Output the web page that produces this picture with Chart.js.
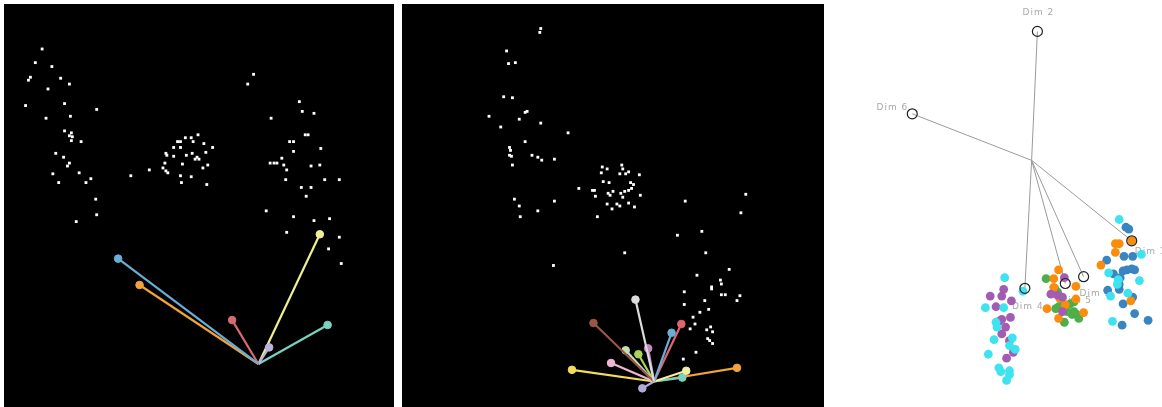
<!DOCTYPE html>
<html>
<head>
<meta charset="utf-8">
<script src="https://cdn.jsdelivr.net/npm/chart.js@4/dist/chart.umd.min.js"></script>
<style>
  html, body { margin: 0; padding: 0; background: #fff; }
  body { width: 1162px; height: 407px; position: relative; overflow: hidden; }
  canvas { position: absolute; }
  #viewA { left: 4px; top: 4px; background: #000; }
  #viewB { left: 402px; top: 4px; background: #000; }
  #viewC { left: 830px; top: 0px; background: #fff; }
</style>
</head>
<body>
<canvas id="viewA" width="390" height="403"></canvas>
<canvas id="viewB" width="422" height="403"></canvas>
<canvas id="viewC" width="332" height="407"></canvas>
<script>
// ---- Projection A: samples and axis rays ----
const samplesA = [
  [38,45],[31,59],[48,63],[26,74],[24,77],[57,75],[66,81],[44,86],[21,103],[61,101],
  [94,107],[42,116],[67,114],[61,129],[68,131],[69,135],[66,134],[78,140],[68,139],[52,152],
  [60,156],[66,162],[64,165],[49,173],[76,172],[88,178],[83,182],[55,182],[93,199],[94,215],[73,222],
  [129,175],[148,169],[185,136],[191,136],[198,133],[177,140],[180,140],[193,140],[204,142],
  [173,146],[180,146],[213,146],[165,152],[166,154],[186,154],[192,152],[197,156],[199,158],
  [195,158],[206,151],[173,155],[164,162],[182,163],[208,164],[203,167],[162,167],[165,170],
  [167,172],[180,175],[191,176],[181,182],[207,184],
  [255,71],[249,81],[302,99],[305,109],[317,111],[273,116],[308,133],[311,133],[292,140],
  [296,140],[324,147],[296,150],[284,157],[272,162],[276,162],[279,162],[286,164],[314,165],
  [323,164],[289,169],[288,179],[328,179],[343,179],[304,187],[314,187],[309,196],[268,211],
  [296,217],[317,221],[333,219],[289,233],[343,238],[332,250],[345,265]
];
const rayOriginA = [260,368];
const rayEndsA = [[116,260],[138,287],[233,323],[271,351],[323,235],[331,328]];
const rayColorsA = ['#6aaed8','#f0a23c','#d46a74','#b9b3dd','#efef95','#78d2c0'];

// ---- Projection B: samples and axis rays ----
const samplesB = [
  [539,24],[538,28],[504,47],[506,60],[513,59],[501,94],[510,95],[486,114],[523,110],[525,109],
  [517,117],[539,121],[498,125],[567,131],[523,140],[507,146],[508,149],[507,154],[509,155],
  [530,154],[536,156],[540,159],[553,158],[510,164],[512,199],[517,206],[518,217],[536,211],[553,201],
  [602,166],[607,168],[622,164],[623,168],[620,173],[626,173],[629,171],[640,174],[601,172],
  [603,181],[609,182],[631,182],[634,184],[632,188],[578,188],[592,190],[594,190],[613,191],
  [621,193],[625,191],[623,197],[629,190],[595,196],[608,193],[610,195],[641,195],[607,204],
  [612,209],[617,204],[620,206],[629,203],[635,207],[597,217],[625,254],[552,267],
  [749,194],[687,201],[744,213],[679,236],[704,232],[708,254],[732,271],[699,277],[723,282],
  [724,286],[714,289],[714,291],[686,294],[724,297],[728,297],[743,298],[740,303],[707,303],
  [686,307],[711,312],[702,315],[695,320],[697,327],[692,332],[713,330],[709,333],[715,335],
  [710,342],[712,344],[715,347],[698,356],[685,363]
];
const rayOriginB = [655,386];
const rayEndsB = [[636,302],[593,326],[626,354],[639,358],[649,352],[611,367],[571,374],
                  [673,336],[683,327],[688,375],[684,382],[740,372],[643,393]];
const rayColorsB = ['#dcdcdc','#9a5646','#bfe3b4','#a9d45c','#c487c4','#f3b5d6','#f2dc5a',
                    '#6aaed8','#e0656f','#f2f0a0','#78d2c0','#f0a23c','#b3a9d8'];

// ---- Projection C: labelled dimensions and coloured groups ----
const dimNames = ['Dim 1','Dim 2','Dim 3','Dim 4','Dim 5','Dim 6'];
const dimOrigin = [1033,159];
const dimEnds = [[1137,242],[1039,26],[1087,279],[1026,291],[1068,286],[909,111]];
const groupCyan = [
  [1005,280],[985,311],[1004,311],[996,326],[997,331],[994,344],[988,359],[1013,342],[1010,350],
  [1016,354],[999,373],[1001,377],[1010,376],[1010,380],[1007,386],[1024,294],
  [1124,220],[1147,256],[1113,275],[1123,282],[1122,287],[1145,283],[1133,296],[1115,299],[1117,325]
];
const groupPurple = [
  [1004,292],[990,299],[1002,299],[1012,304],[996,310],[1002,323],[999,325],[1011,321],[1006,331],
  [1002,338],[1010,345],[1014,357],[1007,363],[1067,280],[1053,297],[1060,298],[1065,300],[1065,315]
];
const groupOrange = [
  [1061,272],[1056,281],[1079,289],[1062,301],[1079,302],[1049,312],[1061,322],[1087,316],
  [1068,308],[1056,290],[1120,245],[1124,245],[1120,254],[1105,267],[1136,304],[1137,242]
];
const groupGreen = [
  [1048,281],[1057,291],[1061,310],[1058,312],[1067,326],[1073,307],[1077,305],[1075,318],
  [1080,318],[1082,322],[1077,315],[1065,308],[1070,315],[1067,313],[1060,295]
];
const groupBlue = [
  [1131,228],[1134,230],[1129,258],[1138,258],[1111,262],[1118,276],[1128,273],[1132,272],
  [1137,271],[1140,272],[1125,280],[1124,287],[1124,292],[1112,293],[1138,300],[1128,307],
  [1140,317],[1154,324],[1127,329]
];

// ---- helpers ----
const pts = arr => arr.map(([x, y]) => ({x, y}));

function view(id, xMin, xMax, yMin, yMax, datasets, plugins) {
  return new Chart(document.getElementById(id), {
    type: 'scatter',
    data: { datasets },
    options: {
      responsive: false,
      animation: false,
      events: [],
      layout: { padding: 0 },
      plugins: { legend: { display: false }, tooltip: { enabled: false } },
      scales: {
        x: { type: 'linear', min: xMin, max: xMax, display: false },
        y: { type: 'linear', min: yMin, max: yMax, reverse: true, display: false }
      }
    },
    plugins: plugins || []
  });
}

function rays(origin, ends, colors) {
  return ends.map((end, i) => ({
    data: pts([origin, end]),
    showLine: true,
    borderColor: colors[i],
    borderWidth: 2.2,
    pointRadius: [0, 3.8],
    pointBackgroundColor: colors[i],
    pointBorderColor: colors[i],
    pointBorderWidth: 1,
    order: 1
  }));
}

function samples(arr) {
  return {
    data: pts(arr),
    pointStyle: 'rect',
    pointRadius: 2,
    backgroundColor: '#ffffff',
    borderColor: '#ffffff',
    borderWidth: 0,
    order: 2
  };
}

view('viewA', 4, 394, 4, 407, [samples(samplesA), ...rays(rayOriginA, rayEndsA, rayColorsA)]);
view('viewB', 402, 824, 4, 407, [samples(samplesB), ...rays(rayOriginB, rayEndsB, rayColorsB)]);

// dimension labels, drawn beneath the sample dots
const labelAnchor = [
  {dx: 3, dy: 11, align: 'left'},
  {dx: 1, dy: -19, align: 'center'},
  {dx: -4, dy: 17, align: 'left'},
  {dx: -13, dy: 18, align: 'left'},
  {dx: -5, dy: 17, align: 'left'},
  {dx: -4, dy: -6, align: 'right'}
];
const dimLabels = {
  id: 'dimLabels',
  beforeDatasetsDraw(chart) {
    const {ctx, scales: {x, y}} = chart;
    ctx.save();
    ctx.font = '9px "DejaVu Sans", sans-serif';
    ctx.letterSpacing = '1px';
    ctx.fillStyle = '#a8a8a8';
    ctx.textBaseline = 'middle';
    dimNames.forEach((name, i) => {
      const a = labelAnchor[i];
      ctx.textAlign = a.align;
      ctx.fillText(name, x.getPixelForValue(dimEnds[i][0]) + a.dx, y.getPixelForValue(dimEnds[i][1]) + a.dy);
    });
    ctx.restore();
  }
};

const groupStyle = (arr, color) => ({
  data: pts(arr),
  pointRadius: 4.4,
  backgroundColor: color,
  borderColor: color,
  borderWidth: 0,
  order: 3
});

const dimLines = dimEnds.map(end => ({
  data: pts([dimOrigin, end]),
  showLine: true,
  borderColor: '#9a9a9a',
  borderWidth: 1,
  pointRadius: 0,
  order: 4
}));

view('viewC', 830, 1162, 0, 407, [
  ...dimLines,
  groupStyle(groupCyan, '#3fe3f0'),
  groupStyle(groupPurple, '#a25db2'),
  groupStyle(groupOrange, '#fb8c0c'),
  groupStyle(groupGreen, '#4dae4a'),
  groupStyle(groupBlue, '#3a85c0'),
  {
    data: pts(dimEnds),
    pointRadius: 5,
    backgroundColor: 'rgba(255,255,255,0)',
    borderColor: '#222',
    borderWidth: 1.2,
    order: 0
  }
], [dimLabels]);
</script>
</body>
</html>
